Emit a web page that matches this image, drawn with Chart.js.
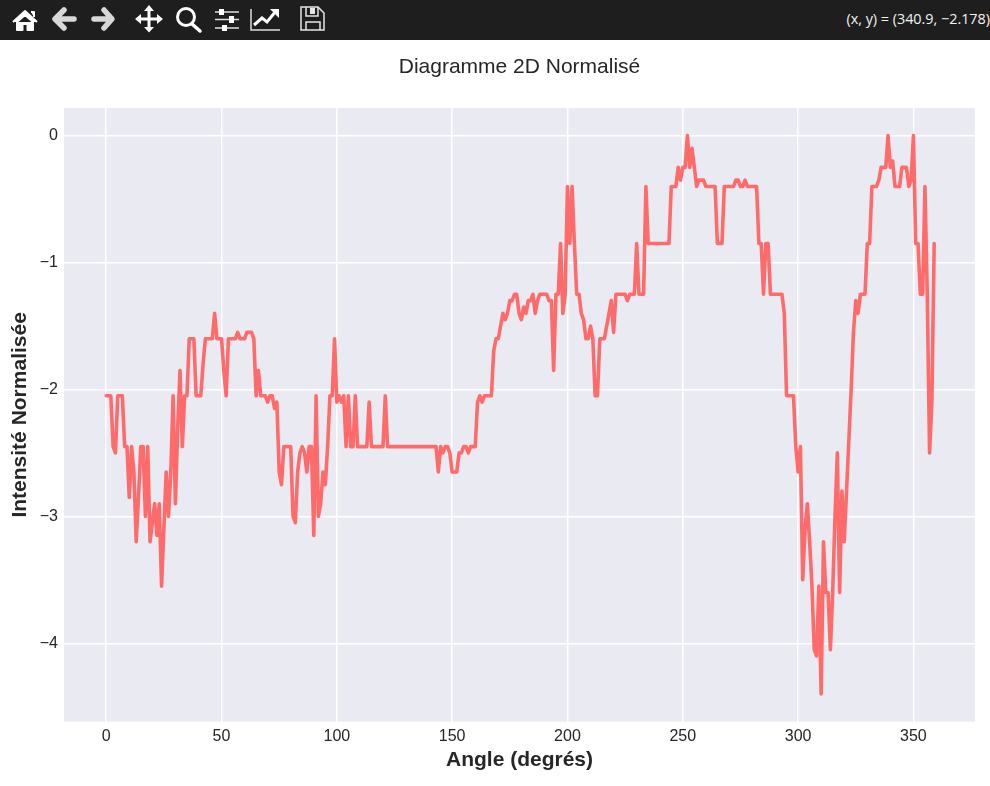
<!DOCTYPE html>
<html lang="fr">
<head>
    <meta charset="UTF-8">
    <title>Diagramme 2D Normalisé</title>
    <script src="https://cdn.jsdelivr.net/npm/chart.js"></script>
    <style>
        html, body { margin: 0; padding: 0; background: #fff; overflow: hidden; }
        #toolbar { position: absolute; left: 0; top: 0; width: 990px; height: 40px; background: #1e1e1e; }
        #toolbar svg { position: absolute; left: 0; top: 0; }
        #coords { position: absolute; right: 0; top: 9px; color: #f2f2f2; font: 14.4px "Open Sans", sans-serif; letter-spacing: -0.02px; white-space: nowrap; }
        #wrap { position: absolute; left: 0; top: 40px; width: 990px; height: 746px; }
    </style>
</head>
<body>
    <div id="toolbar">
        <svg width="360" height="40" viewBox="0 0 360 40">
            <!-- home -->
            <path d="M13 22 L25 11 L37 22 M17 22 V30 H22.5 V24 H27.5 V30 H33 V22 L25 15 Z M31 12 h3 v5" fill="#fff" stroke="#fff" stroke-width="2" stroke-linejoin="round"/>
            <!-- back / forward -->
            <path d="M74 19 H58 M64 10 L55 19 L64 28" fill="none" stroke="#d8d8d8" stroke-width="5.5" stroke-linecap="round" stroke-linejoin="round"/>
            <path d="M94 19 H110 M104 10 L112 19 L104 28" fill="none" stroke="#d8d8d8" stroke-width="5.5" stroke-linecap="round" stroke-linejoin="round"/>
            <!-- move -->
            <path d="M149 8 V29 M138 19 H160" stroke="#fff" stroke-width="3" fill="none"/>
            <path d="M149 5 L154 11 H144 Z M149 32.5 L154 27 H144 Z M135 19 L141 14 V24 Z M163 19 L157 14 V24 Z" fill="#fff"/>
            <!-- zoom -->
            <circle cx="186" cy="17" r="8.5" fill="none" stroke="#fff" stroke-width="3"/>
            <path d="M192 24 L200 31" stroke="#fff" stroke-width="3.5" stroke-linecap="round"/>
            <!-- sliders -->
            <path d="M215 12 H239 M215 19.5 H239 M215 28 H239" stroke="#e0e0e0" stroke-width="1.6"/>
            <path d="M219 9 h5 v6 h-5 Z M229 16 h5 v7 h-5 Z M222 25 h5 v6 h-5 Z" fill="#fff"/>
            <!-- lines -->
            <path d="M251 9 V30 H280" fill="none" stroke="#ddd" stroke-width="1.5"/>
            <path d="M254 25 L262 18 L267 22 L276 11" fill="none" stroke="#fff" stroke-width="3"/>
            <path d="M270 9 H279 V18 Z" fill="#fff"/>
            <!-- save -->
            <path d="M301 7 H318 L324 13 V30 H301 Z" fill="none" stroke="#e6e6e6" stroke-width="1.5"/>
            <path d="M306 7 V16 H318 V7 M306 30 V22 H320 V30" fill="none" stroke="#e6e6e6" stroke-width="1.5"/>
            <rect x="310" y="8" width="5" height="6" fill="#e6e6e6"/>
        </svg>
        <div id="coords">(x, y) = (340.9, −2.178)</div>
    </div>
    <div id="wrap"><canvas id="chart2d" width="990" height="746"></canvas></div>

    <script>
        const intensite = [
            -2.05,-2.05,-2.05,-2.45,-2.5,-2.05,-2.05,-2.05,-2.45,-2.45,
            -2.85,-2.45,-2.65,-3.2,-2.85,-2.45,-2.45,-3.0,-2.45,-3.2,
            -3.05,-2.9,-3.15,-2.9,-3.55,-3.1,-2.65,-3.0,-2.65,-2.05,
            -2.9,-2.3,-1.85,-2.45,-2.05,-2.05,-1.6,-1.6,-1.6,-2.05,
            -2.05,-2.05,-1.8,-1.6,-1.6,-1.6,-1.6,-1.4,-1.6,-1.6,
            -1.6,-1.85,-2.05,-1.6,-1.6,-1.6,-1.6,-1.55,-1.6,-1.6,
            -1.6,-1.55,-1.55,-1.55,-1.6,-2.05,-1.85,-2.05,-2.05,-2.05,
            -2.1,-2.05,-2.05,-2.15,-2.1,-2.65,-2.75,-2.45,-2.45,-2.45,
            -2.45,-3.0,-3.05,-2.65,-2.5,-2.45,-2.5,-2.65,-2.45,-2.45,
            -3.15,-2.05,-3.0,-2.9,-2.65,-2.75,-2.45,-2.05,-2.05,-1.6,
            -2.1,-2.05,-2.1,-2.05,-2.45,-2.05,-2.45,-2.45,-2.05,-2.45,
            -2.45,-2.45,-2.45,-2.45,-2.1,-2.45,-2.45,-2.45,-2.45,-2.45,
            -2.45,-2.05,-2.45,-2.45,-2.45,-2.45,-2.45,-2.45,-2.45,-2.45,
            -2.45,-2.45,-2.45,-2.45,-2.45,-2.45,-2.45,-2.45,-2.45,-2.45,
            -2.45,-2.45,-2.45,-2.45,-2.65,-2.45,-2.5,-2.45,-2.45,-2.5,
            -2.65,-2.65,-2.65,-2.5,-2.5,-2.45,-2.45,-2.5,-2.45,-2.45,
            -2.45,-2.1,-2.05,-2.1,-2.05,-2.05,-2.05,-2.05,-1.7,-1.6,
            -1.6,-1.5,-1.4,-1.45,-1.4,-1.3,-1.3,-1.25,-1.25,-1.4,
            -1.45,-1.35,-1.4,-1.3,-1.3,-1.25,-1.4,-1.3,-1.25,-1.25,
            -1.25,-1.25,-1.3,-1.3,-1.85,-1.25,-1.25,-0.85,-1.4,-1.25,
            -0.4,-0.85,-0.4,-0.85,-1.25,-1.25,-1.4,-1.45,-1.6,-1.6,
            -1.5,-1.6,-2.05,-2.05,-1.6,-1.6,-1.6,-1.5,-1.4,-1.3,
            -1.55,-1.25,-1.25,-1.25,-1.25,-1.25,-1.3,-1.25,-1.25,-1.25,
            -0.85,-1.25,-1.25,-1.25,-0.4,-0.85,-0.85,-0.85,-0.85,-0.85,
            -0.85,-0.85,-0.85,-0.85,-0.85,-0.4,-0.4,-0.4,-0.25,-0.35,
            -0.25,-0.25,0,-0.25,-0.1,-0.25,-0.4,-0.35,-0.35,-0.35,
            -0.4,-0.4,-0.4,-0.4,-0.4,-0.85,-0.85,-0.85,-0.4,-0.4,
            -0.4,-0.4,-0.4,-0.35,-0.35,-0.4,-0.4,-0.35,-0.4,-0.4,
            -0.4,-0.4,-0.4,-0.85,-0.85,-1.25,-0.85,-0.85,-1.25,-1.25,
            -1.25,-1.25,-1.25,-1.25,-1.4,-2.05,-2.05,-2.05,-2.05,-2.45,
            -2.65,-2.45,-3.5,-3.1,-2.9,-3.2,-3.55,-4.05,-4.1,-3.55,
            -4.4,-3.2,-3.6,-3.6,-4.05,-3.6,-3.0,-2.5,-3.6,-2.8,
            -3.2,-2.8,-2.4,-2.0,-1.55,-1.3,-1.4,-1.25,-1.25,-1.25,
            -0.85,-0.85,-0.4,-0.4,-0.4,-0.35,-0.25,-0.25,-0.25,0,
            -0.25,-0.2,-0.4,-0.4,-0.4,-0.25,-0.25,-0.25,-0.4,-0.35,
            0,-0.85,-0.85,-1.25,-1.25,-0.4,-1.25,-2.5,-2.1,-0.85
        ];
        const angles = intensite.map((v, i) => i);
        const xTicks = [0, 50, 100, 150, 200, 250, 300, 350];
        const yTicks = [0, -1, -2, -3, -4];

        const points = angles.map((a, i) => ({ x: a, y: intensite[i] }));
        const font = 'Liberation Sans, Arial, sans-serif';

        // background of the axes, behind grid lines
        const plotBg = {
            id: 'plotBg',
            beforeDraw(chart) {
                const a = chart.chartArea;
                chart.ctx.save();
                chart.ctx.fillStyle = '#EAEAF2';
                chart.ctx.fillRect(a.left, a.top, a.right - a.left, a.bottom - a.top);
                chart.ctx.restore();
            }
        };

        new Chart(document.getElementById('chart2d'), {
            type: 'line',
            data: {
                datasets: [{
                    data: points,
                    borderColor: '#FF6B6B',
                    borderWidth: 3.6,
                    borderJoinStyle: 'round',
                    borderCapStyle: 'round',
                    pointRadius: 0,
                    tension: 0
                }]
            },
            plugins: [plotBg],
            options: {
                responsive: false,
                animation: false,
                devicePixelRatio: 1,
                layout: { padding: { top: 0, left: 0, right: 15, bottom: 0 } },
                plugins: {
                    legend: { display: false },
                    tooltip: { enabled: false },
                    title: {
                        display: true,
                        text: 'Diagramme 2D Normalisé',
                        fullSize: false,
                        color: '#262626',
                        font: { family: font, size: 21, weight: 'normal', lineHeight: 1.2 },
                        padding: { top: 15, bottom: 27.8 }
                    }
                },
                scales: {
                    x: {
                        type: 'linear',
                        min: -18.3,
                        max: 376.7,
                        afterBuildTicks(s) { s.ticks = xTicks.map(v => ({ value: v })); },
                        afterFit(s) { s.height = 64.3; },
                        grid: { color: '#ffffff', lineWidth: 1.5, drawTicks: false },
                        border: { display: false },
                        ticks: { color: '#262626', padding: 5, maxRotation: 0, font: { family: font, size: 16 }, callback: v => String(v) },
                        title: { display: true, text: 'Angle (degrés)', color: '#262626', padding: { top: 0, bottom: 13 }, font: { family: font, size: 21, weight: 'bold' } }
                    },
                    y: {
                        min: -4.618,
                        max: 0.218,
                        afterBuildTicks(s) { s.ticks = yTicks.map(v => ({ value: v })); },
                        afterFit(s) { s.width = 64; },
                        grid: { color: '#ffffff', lineWidth: 1.5, drawTicks: false },
                        border: { display: false },
                        ticks: { color: '#262626', padding: 6, font: { family: font, size: 16 }, callback: v => String(v).replace('-', '\u2212') },
                        title: { display: true, text: 'Intensité Normalisée', color: '#262626', padding: { top: 8, bottom: 0 }, font: { family: font, size: 21, weight: 'bold' } }
                    }
                }
            }
        });
    </script>
</body>
</html>
